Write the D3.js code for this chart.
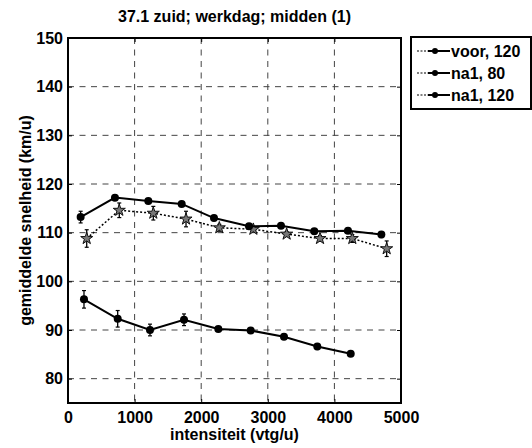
<!DOCTYPE html>
<html lang="en">
<head>
<meta charset="UTF-8">
<title>37.1 zuid</title>
<style>
html, body { margin: 0; padding: 0; background: #fff; }
svg text { font-family: "Liberation Sans", Arial, sans-serif; font-weight: bold; fill: #000; }
.grid line { stroke: #444; stroke-dasharray: 6 5.5; stroke-width: 1; }
</style>
</head>
<body>
<div id="graph"></div>
<script src="https://d3js.org/d3.v7.min.js"></script>
<script>
// data
const seriesNames = ["voor, 120", "na1, 80", "na1, 120"];

const voorX = [281, 770, 1281, 1772, 2272, 2783, 3283, 3784, 4269, 4785];
const voorY = [108.8, 114.6, 114.0, 112.8, 111.0, 110.7, 109.7, 108.8, 108.8, 106.7];
const voorErr = [1.8, 1.5, 1.4, 1.6, 0.7, 0.5, 0.5, 0.6, 0.8, 1.6];

const na80X = [240, 746, 1231, 1742, 2257, 2743, 3243, 3743, 4245];
const na80Y = [96.3, 92.3, 90.0, 92.1, 90.2, 89.9, 88.6, 86.6, 85.1];
const na80Err = [1.8, 1.7, 1.2, 1.2, 0.5, 0.4, 0.5, 0.6, 0.5];

const na120X = [190, 705, 1206, 1707, 2192, 2718, 3198, 3698, 4204, 4705];
const na120Y = [113.2, 117.2, 116.5, 115.9, 113.0, 111.3, 111.4, 110.3, 110.4, 109.6];
const na120Err = [1.2, 0.5, 0.5, 0.5, 0.5, 0.4, 0.4, 0.5, 0.5, 0.6];

const xTicks = [0, 1000, 2000, 3000, 4000, 5000];
const yTicks = [80, 90, 100, 110, 120, 130, 140, 150];

const title = "37.1 zuid; werkdag; midden (1)";
const xTitle = "intensiteit (vtg/u)";
const yTitle = "gemiddelde snelheid (km/u)";

!(function () {
    const width = 532, height = 448;
    const margin = { top: 38, left: 68, right: 131, bottom: 45 };
    const chartWidth = width - margin.left - margin.right;
    const chartHeight = height - margin.top - margin.bottom;

    const svg = d3.select("#graph").append("svg")
        .attr("width", width).attr("height", height);
    svg.append("rect").attr("width", width).attr("height", height).attr("fill", "#fff");

    const xScale = d3.scaleLinear().domain([0, 5000]).range([0, chartWidth]);
    const yScale = d3.scaleLinear().domain([75, 150]).range([chartHeight, 0]);

    const chart = svg.append("g").attr("transform", `translate(${margin.left},${margin.top})`);

    // grid
    const grid = chart.append("g").attr("class", "grid");
    grid.selectAll(".gx").data(xTicks.slice(1, -1)).enter().append("line")
        .attr("x1", d => xScale(d)).attr("x2", d => xScale(d))
        .attr("y1", 0).attr("y2", chartHeight);
    grid.selectAll(".gy").data(yTicks.slice(0, -1)).enter().append("line")
        .attr("x1", 0).attr("x2", chartWidth)
        .attr("y1", d => yScale(d)).attr("y2", d => yScale(d));

    // axes
    const xAxis = d3.axisBottom(xScale).tickValues(xTicks).tickFormat(d3.format("d"))
        .tickSizeInner(-4).tickSizeOuter(0).tickPadding(9);
    const yAxis = d3.axisLeft(yScale).tickValues(yTicks).tickSizeInner(-4).tickSizeOuter(0).tickPadding(5);
    const xTop = d3.axisTop(xScale).tickValues(xTicks).tickSizeInner(-4).tickSizeOuter(0).tickFormat("");
    const yRight = d3.axisRight(yScale).tickValues(yTicks).tickSizeInner(-4).tickSizeOuter(0).tickFormat("");

    chart.append("g").attr("transform", `translate(0,${chartHeight})`).call(xAxis);
    chart.append("g").call(yAxis);
    chart.append("g").call(xTop);
    chart.append("g").attr("transform", `translate(${chartWidth},0)`).call(yRight);
    chart.selectAll(".domain").remove();
    chart.selectAll(".tick line").attr("stroke", "#000");
    chart.selectAll(".tick text").style("font-size", "16px").attr("fill", "#000");

    chart.append("rect")
        .attr("width", chartWidth).attr("height", chartHeight)
        .attr("fill", "none").attr("stroke", "#000").attr("stroke-width", 2);

    // series
    const series = [
        { name: seriesNames[0], x: voorX, y: voorY, e: voorErr, dash: "2 2", star: true },
        { name: seriesNames[1], x: na80X, y: na80Y, e: na80Err, dash: null, star: false },
        { name: seriesNames[2], x: na120X, y: na120Y, e: na120Err, dash: null, star: false }
    ];

    const line = d3.line().x(d => xScale(d.x)).y(d => yScale(d.y));
    const star = d3.symbol().type(d3.symbolStar).size(45);

    series.forEach(s => {
        const pts = s.x.map((v, i) => ({ x: v, y: s.y[i], e: s.e[i] }));
        const g = chart.append("g");
        g.append("path").datum(pts)
            .attr("d", line).attr("fill", "none").attr("stroke", "#000")
            .attr("stroke-width", s.star ? 1.5 : 2)
            .attr("stroke-dasharray", s.dash);

        const eb = g.selectAll(".eb").data(pts).enter().append("g");
        eb.append("line")
            .attr("x1", d => xScale(d.x)).attr("x2", d => xScale(d.x))
            .attr("y1", d => yScale(d.y - d.e)).attr("y2", d => yScale(d.y + d.e))
            .attr("stroke", "#000").attr("stroke-width", 1.3);
        [-1, 1].forEach(k => {
            eb.append("line")
                .attr("x1", d => xScale(d.x) - 2).attr("x2", d => xScale(d.x) + 2)
                .attr("y1", d => yScale(d.y + k * d.e)).attr("y2", d => yScale(d.y + k * d.e))
                .attr("stroke", "#000").attr("stroke-width", 1.2);
        });

        if (s.star) {
            g.selectAll(".m").data(pts).enter().append("path")
                .attr("d", star)
                .attr("transform", d => `translate(${xScale(d.x)},${yScale(d.y)})`)
                .attr("fill", "#777").attr("stroke", "#111").attr("stroke-width", 1);
        } else {
            g.selectAll(".m").data(pts).enter().append("circle")
                .attr("cx", d => xScale(d.x)).attr("cy", d => yScale(d.y))
                .attr("r", 4).attr("fill", "#000");
        }
    });

    // titles
    svg.append("text")
        .attr("x", margin.left + chartWidth / 2).attr("y", 22)
        .attr("text-anchor", "middle").style("font-size", "16px").text(title);
    svg.append("text")
        .attr("x", margin.left + chartWidth / 2).attr("y", 440)
        .attr("text-anchor", "middle").style("font-size", "16px").text(xTitle);
    svg.append("text")
        .attr("transform", `translate(31,${margin.top + chartHeight / 2}) rotate(-90)`)
        .attr("text-anchor", "middle").style("font-size", "16px").text(yTitle);

    // legend
    const legend = svg.append("g").attr("transform", "translate(411,37)");
    legend.append("rect")
        .attr("width", 120).attr("height", 72)
        .attr("fill", "#fff").attr("stroke", "#000").attr("stroke-width", 2);
    const rows = legend.selectAll(".row").data(seriesNames).enter().append("g")
        .attr("transform", (d, i) => `translate(0,${14 + i * 22})`);
    rows.append("line")
        .attr("x1", 6).attr("x2", 17).attr("y1", 0).attr("y2", 0)
        .attr("stroke", "#000").attr("stroke-width", 1).attr("stroke-dasharray", "2 1.5");
    rows.append("line")
        .attr("x1", 17).attr("x2", 39).attr("y1", 0).attr("y2", 0)
        .attr("stroke", "#000").attr("stroke-width", 2);
    rows.append("circle").attr("cx", 24).attr("cy", 0).attr("r", 3).attr("fill", "#000");
    rows.append("text")
        .attr("x", 40).attr("y", 6)
        .style("font-size", "16px").text(d => d);
})();
</script>
</body>
</html>
